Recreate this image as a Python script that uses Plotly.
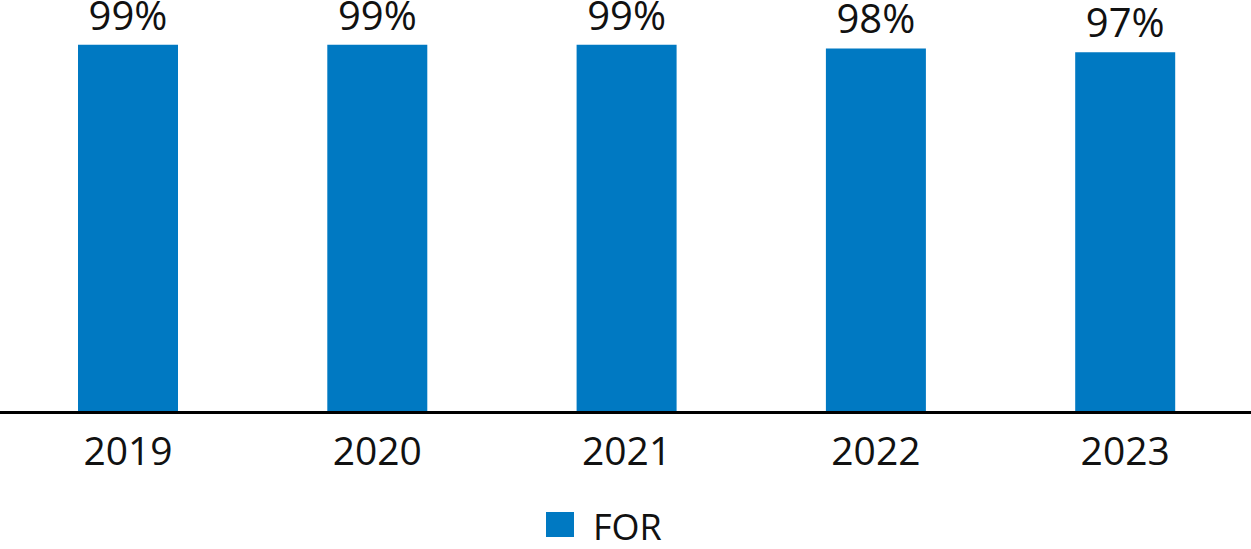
import plotly.graph_objects as go

years = ["2019", "2020", "2021", "2022", "2023"]
values = [99, 99, 99, 98, 97]
labels = ["99%", "99%", "99%", "98%", "97%"]
series_name = "FOR"

BLUE = "#0079C2"
FONT = "Open Sans"

W, H = 1251, 549
ML, MR = 0, 0
MT = 41
MB = 549 - 412
PW = W - ML - MR
PH = H - MT - MB

def px_x(px):
    return (px - ML) / PW

def px_y(py):
    return (H - MB - py) / PH

# category layout: first centre at x=128 px, spacing 249.3 px
step = 249.3
first = 128
x0 = -first / step
x1 = x0 + PW / step

fig = go.Figure()
fig.add_trace(go.Bar(
    x=years, y=values, text=labels, textposition="outside",
    textfont=dict(family=FONT, size=40, color="#111111"),
    marker=dict(color=BLUE, line=dict(width=0)),
    cliponaxis=False, constraintext="none", name=series_name,
    showlegend=False, hoverinfo="x+y",
))

# baseline across full width
fig.add_shape(type="line", xref="paper", yref="paper",
              x0=0, x1=1, y0=px_y(412.5), y1=px_y(412.5),
              line=dict(color="black", width=3))

# legend drawn as shape + text to match large marker
fig.add_shape(type="rect", xref="paper", yref="paper",
              x0=px_x(546), x1=px_x(574), y0=px_y(537), y1=px_y(512),
              fillcolor=BLUE, line=dict(width=0))
fig.add_annotation(xref="paper", yref="paper", x=px_x(591), y=px_y(526),
                   xanchor="left", yanchor="middle", text=series_name,
                   showarrow=False, font=dict(family=FONT, size=36, color="#111111"))

fig.update_layout(
    width=W, height=H,
    margin=dict(l=ML, r=MR, t=MT, b=MB, autoexpand=False),
    plot_bgcolor="white", paper_bgcolor="white",
    bargap=1 - 100 / step, showlegend=False,
    font=dict(family=FONT, color="#111111"),
)
fig.update_xaxes(showline=False, ticks="", automargin=False,
                 range=[x0, x1],
                 tickfont=dict(family=FONT, size=39, color="#111111"),
                 showgrid=False, zeroline=False, ticklabelstandoff=13)
fig.update_yaxes(range=[0, 100], visible=False, showgrid=False, zeroline=False)

fig.write_html(
    "out.html",
    config={"displayModeBar": False},
    post_script="document.body.style.margin='0';document.body.style.overflow='hidden';",
)
